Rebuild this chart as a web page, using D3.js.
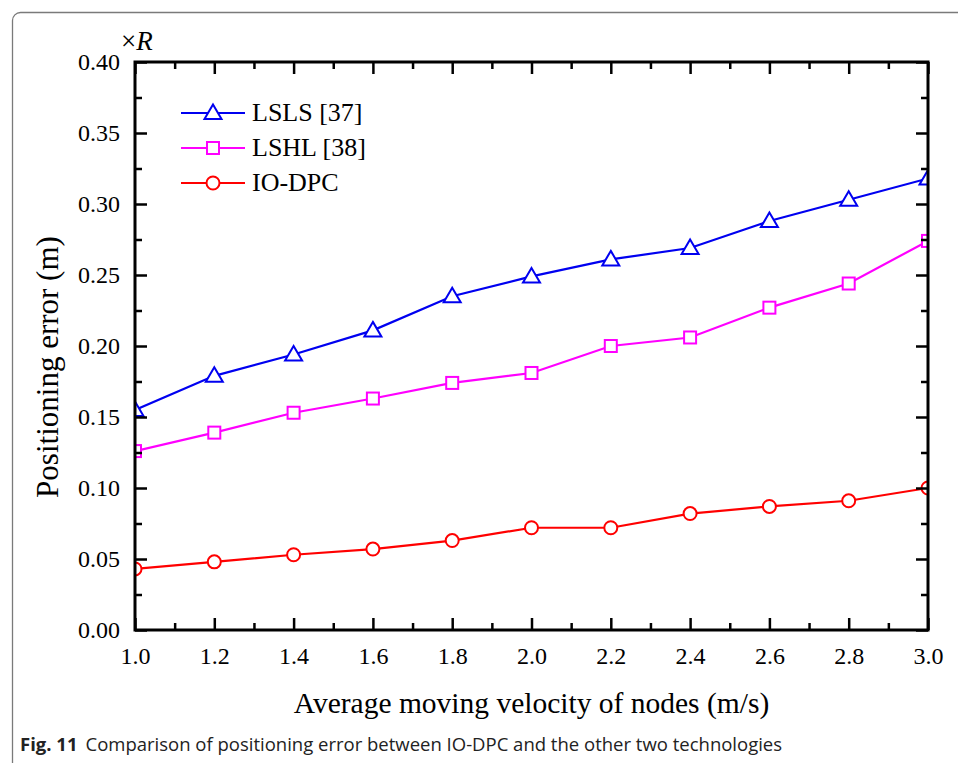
<!DOCTYPE html>
<html>
<head>
<meta charset="utf-8">
<script src="https://cdn.jsdelivr.net/npm/d3@7"></script>
<style>
  body { margin: 0; background: #fff; }
  svg { display: block; }
</style>
</head>
<body>
<div id="chart"></div>
<script>
// data
const velocity = [1.0, 1.2, 1.4, 1.6, 1.8, 2.0, 2.2, 2.4, 2.6, 2.8, 3.0];
const lsls   = [0.155, 0.179, 0.194, 0.211, 0.235, 0.249, 0.261, 0.269, 0.288, 0.303, 0.318];
const lshl   = [0.126, 0.139, 0.153, 0.163, 0.174, 0.181, 0.200, 0.206, 0.227, 0.244, 0.274];
const iodpc  = [0.043, 0.048, 0.053, 0.057, 0.063, 0.072, 0.072, 0.082, 0.087, 0.091, 0.100];
const seriesNames = ['LSLS [37]', 'LSHL [38]', 'IO-DPC'];
const xTicks = [1.0, 1.2, 1.4, 1.6, 1.8, 2.0, 2.2, 2.4, 2.6, 2.8, 3.0];
const yTicks = [0.00, 0.05, 0.10, 0.15, 0.20, 0.25, 0.30, 0.35, 0.40];

const W = 958, H = 763;
const margin = { left: 135, top: 62, right: 30, bottom: 133 };
const serif = '"Liberation Serif", "Times New Roman", serif';

const svg = d3.select('#chart')
    .append('svg')
    .attr('width', W)
    .attr('height', H);

// figure frame
svg.append('rect')
    .attr('x', 12.5)
    .attr('y', 12.5)
    .attr('width', 1000)
    .attr('height', 900)
    .attr('rx', 8)
    .attr('fill', 'none')
    .attr('stroke', '#7a7a7a')
    .attr('stroke-width', 1.3);

const x = d3.scaleLinear().domain([1.0, 3.0]).range([margin.left, W - margin.right]);
const y = d3.scaleLinear().domain([0, 0.40]).range([H - margin.bottom, margin.top]);

const x0 = x.range()[0], x1 = x.range()[1];
const y0 = y.range()[0], y1 = y.range()[1];

svg.append('defs').append('clipPath')
    .attr('id', 'plot-clip')
    .append('rect')
    .attr('x', x0).attr('y', y1)
    .attr('width', x1 - x0).attr('height', y0 - y1);

const plot = svg.append('g').attr('clip-path', 'url(#plot-clip)');

const series = [
    { name: seriesNames[0], values: lsls,  color: '#0000f0', shape: 'triangle' },
    { name: seriesNames[1], values: lshl,  color: '#ff00ff', shape: 'square' },
    { name: seriesNames[2], values: iodpc, color: '#ff0000', shape: 'circle' }
];

function drawMarker(g, shape, color, cx, cy) {
    if (shape === 'triangle') {
        g.append('path')
            .attr('d', `M${cx},${cy - 8.5}L${cx + 8.5},${cy + 6}L${cx - 8.5},${cy + 6}Z`)
            .attr('fill', '#fff').attr('stroke', color).attr('stroke-width', 2);
    } else if (shape === 'square') {
        g.append('rect')
            .attr('x', cx - 6).attr('y', cy - 6)
            .attr('width', 12).attr('height', 12)
            .attr('fill', '#fff').attr('stroke', color).attr('stroke-width', 2);
    } else {
        g.append('circle')
            .attr('cx', cx).attr('cy', cy).attr('r', 6.5)
            .attr('fill', '#fff').attr('stroke', color).attr('stroke-width', 2);
    }
}

const line = d3.line()
    .x((d, i) => x(velocity[i]))
    .y(d => y(d));

series.forEach(s => {
    plot.append('path')
        .datum(s.values)
        .attr('d', line)
        .attr('fill', 'none')
        .attr('stroke', s.color)
        .attr('stroke-width', 2.2);
    s.values.forEach((v, i) => drawMarker(plot, s.shape, s.color, x(velocity[i]), y(v)));
});

// axes: inward ticks on all four sides
const xMinor = d3.range(1.1, 3.0, 0.2);
const yMinor = d3.range(0.025, 0.4, 0.05);

function styleAxis(g) {
    g.select('.domain').remove();
    g.selectAll('.tick line').attr('stroke', '#000').attr('stroke-width', 2.5);
    g.selectAll('text')
        .attr('font-family', serif)
        .attr('font-size', 24)
        .attr('fill', '#000');
}

svg.append('g')
    .attr('transform', `translate(0,${y0})`)
    .call(d3.axisBottom(x).tickValues(xTicks).tickSizeInner(-12).tickSizeOuter(0)
        .tickPadding(17).tickFormat(d3.format('.1f')))
    .call(styleAxis);
svg.append('g')
    .attr('transform', `translate(0,${y0})`)
    .call(d3.axisBottom(x).tickValues(xMinor).tickSize(-7).tickFormat(''))
    .call(styleAxis);
svg.append('g')
    .attr('transform', `translate(0,${y1})`)
    .call(d3.axisTop(x).tickValues(xTicks).tickSize(-12).tickFormat(''))
    .call(styleAxis);
svg.append('g')
    .attr('transform', `translate(0,${y1})`)
    .call(d3.axisTop(x).tickValues(xMinor).tickSize(-7).tickFormat(''))
    .call(styleAxis);

svg.append('g')
    .attr('transform', `translate(${x0},0)`)
    .call(d3.axisLeft(y).tickValues(yTicks).tickSizeInner(-12).tickSizeOuter(0)
        .tickPadding(15).tickFormat(d3.format('.2f')))
    .call(styleAxis);
svg.append('g')
    .attr('transform', `translate(${x0},0)`)
    .call(d3.axisLeft(y).tickValues(yMinor).tickSize(-7).tickFormat(''))
    .call(styleAxis);
svg.append('g')
    .attr('transform', `translate(${x1},0)`)
    .call(d3.axisRight(y).tickValues(yTicks).tickSize(-12).tickFormat(''))
    .call(styleAxis);
svg.append('g')
    .attr('transform', `translate(${x1},0)`)
    .call(d3.axisRight(y).tickValues(yMinor).tickSize(-7).tickFormat(''))
    .call(styleAxis);

// plot frame
svg.append('rect')
    .attr('x', x0).attr('y', y1)
    .attr('width', x1 - x0).attr('height', y0 - y1)
    .attr('fill', 'none')
    .attr('stroke', '#000')
    .attr('stroke-width', 3);

// ×R multiplier
const mult = svg.append('text')
    .attr('x', 121)
    .attr('y', 50)
    .attr('font-family', serif)
    .attr('font-size', 27)
    .attr('fill', '#000');
mult.append('tspan').text('\u00d7');
mult.append('tspan').attr('font-style', 'italic').text('R');

// legend
const legend = svg.append('g').attr('transform', 'translate(181, 113)');
series.forEach((s, i) => {
    const ly = i * 35;
    legend.append('line')
        .attr('x1', 0).attr('x2', 64)
        .attr('y1', ly).attr('y2', ly)
        .attr('stroke', s.color).attr('stroke-width', 2.2);
    drawMarker(legend, s.shape, s.color, 32, ly);
    legend.append('text')
        .attr('x', 71)
        .attr('y', ly + 8)
        .attr('font-family', serif)
        .attr('font-size', 26)
        .attr('fill', '#000')
        .text(s.name);
});

// axis titles
svg.append('text')
    .attr('x', (x0 + x1) / 2)
    .attr('y', 713)
    .attr('text-anchor', 'middle')
    .attr('font-family', serif)
    .attr('font-size', 29.5)
    .attr('fill', '#000')
    .text('Average moving velocity of nodes (m/s)');

svg.append('text')
    .attr('transform', 'translate(58,367) rotate(-90)')
    .attr('text-anchor', 'middle')
    .attr('font-family', serif)
    .attr('font-size', 31)
    .attr('fill', '#000')
    .text('Positioning error (m)');

// caption
const cap = svg.append('text')
    .attr('x', 20)
    .attr('y', 751)
    .attr('font-family', '"Open Sans", "Noto Sans", sans-serif')
    .attr('font-size', 18.5)
    .attr('fill', '#222');
cap.append('tspan').attr('font-weight', 'bold').text('Fig. 11');
cap.append('tspan').attr('dx', 8).text('Comparison of positioning error between IO-DPC and the other two technologies');
</script>
</body>
</html>
